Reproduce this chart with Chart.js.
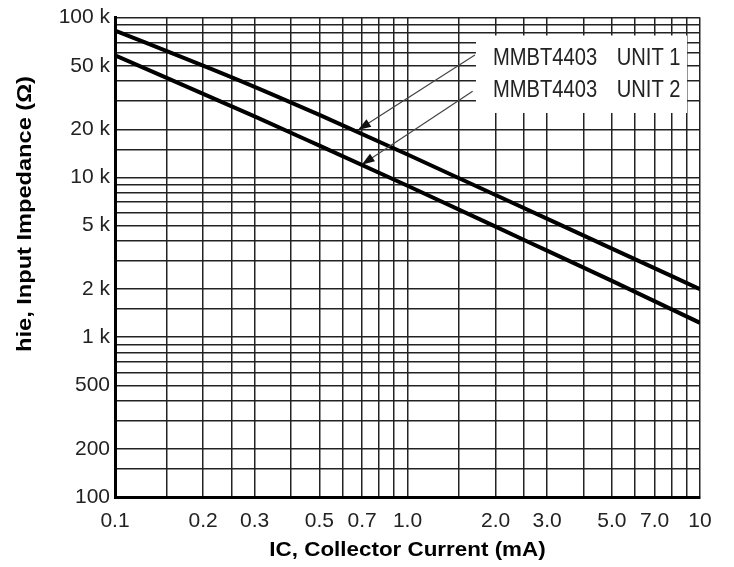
<!DOCTYPE html>
<html><head><meta charset="utf-8">
<script src="https://cdn.jsdelivr.net/npm/chart.js@4/dist/chart.umd.min.js"></script>
<style>html,body{margin:0;padding:0;background:#fff}#wrap{width:734px;height:567px;position:relative}</style>
</head><body><div id="wrap"><canvas id="c"></canvas></div>
<script>
// ---- data ----
const legendPart = ['MMBT4403', 'MMBT4403'];
const legendUnit = ['UNIT 1', 'UNIT 2'];
const unit1Current   = [0.1, 0.2, 0.3, 0.5, 1.0, 2.0, 5.0, 10];
const unit1Impedance = [83000, 50100, 36900, 24600, 13900, 7760, 3580, 2000];
const unit2Current   = [0.1, 0.3, 0.5, 1.0, 2.0, 3.0, 5.0, 10];
const unit2Impedance = [58000, 24100, 15800, 8860, 4920, 3480, 2250, 1230];
const xTickValues = [0.1, 0.2, 0.3, 0.5, 0.7, 1, 2, 3, 5, 7, 10];
const xTickLabels = ['0.1', '0.2', '0.3', '0.5', '0.7', '1.0', '2.0', '3.0', '5.0', '7.0', '10'];
const yTickValues = [100, 200, 500, 1000, 2000, 5000, 10000, 20000, 50000, 100000];
const yTickLabels = ['100', '200', '500', '1 k', '2 k', '5 k', '10 k', '20 k', '50 k', '100 k'];
const xGridMultiples = [1, 1.5, 2, 2.5, 3, 4, 5, 6, 7, 8, 9];
const yGridMultiples = [1, 1.5, 2, 3, 4, 5, 6, 7, 8, 9];
const xTitle = 'IC, Collector Current (mA)';
const yTitle = 'hie, Input Impedance (\u03A9)';
// arrow annotations: [tailCurrent, tailImpedance, tipCurrent, tipImpedance]
const arrow1 = [1.70, 58300, 0.677, 19800];
const arrow2 = [1.67, 34600, 0.697, 12000];

const TICK_FONT = "'Liberation Sans', Arial, sans-serif";
const TITLE_FONT = "'Liberation Sans', Arial, sans-serif";

function gridValues(min, max, mults) {
  const out = [];
  for (let e = Math.floor(Math.log10(min)); e <= Math.ceil(Math.log10(max)); e++) {
    for (const m of mults) {
      const v = m * Math.pow(10, e);
      if (v >= min * 0.9999 && v <= max * 1.0001) out.push(v);
    }
  }
  return out;
}
function labelFor(v, vals, labs) {
  for (let i = 0; i < vals.length; i++) if (Math.abs(v - vals[i]) / vals[i] < 1e-6) return labs[i];
  return '';
}
const toPts = (xs, ys) => xs.map((x, i) => ({x: x, y: ys[i]}));

const annot = {
  id: 'annot',
  afterDatasetsDraw(chart) {
    const ctx = chart.ctx, xs = chart.scales.x, ys = chart.scales.y;
    ctx.save();
    // legend box
    const l = xs.getPixelForValue(1.714), r = xs.getPixelForValue(9.03);
    const t = ys.getPixelForValue(77300), b = ys.getPixelForValue(25300);
    ctx.fillStyle = '#fff';
    ctx.fillRect(l, t, r - l, b - t);
    ctx.fillStyle = '#222';
    ctx.font = "24px " + TICK_FONT;
    ctx.textBaseline = 'alphabetic';
    ctx.textAlign = 'left';
    const rows = [50800, 31800];
    for (let i = 0; i < 2; i++) {
      const yb = ys.getPixelForValue(rows[i]);
      for (const [txt, xv] of [[legendPart[i], 1.96], [legendUnit[i], 5.19]]) {
        ctx.save();
        ctx.translate(xs.getPixelForValue(xv), yb);
        ctx.scale(0.84, 1);
        ctx.fillText(txt, 0, 0);
        ctx.restore();
      }
    }
    // arrows
    for (const a of [arrow1, arrow2]) {
      const x0 = xs.getPixelForValue(a[0]), y0 = ys.getPixelForValue(a[1]);
      const x1 = xs.getPixelForValue(a[2]), y1 = ys.getPixelForValue(a[3]);
      const ang = Math.atan2(y1 - y0, x1 - x0);
      ctx.strokeStyle = '#444';
      ctx.lineWidth = 1.2;
      ctx.beginPath(); ctx.moveTo(x0, y0);
      ctx.lineTo(x1 - 10 * Math.cos(ang), y1 - 10 * Math.sin(ang)); ctx.stroke();
      ctx.fillStyle = '#111';
      ctx.beginPath();
      ctx.moveTo(x1, y1);
      ctx.lineTo(x1 - 13 * Math.cos(ang) + 4.5 * Math.sin(ang), y1 - 13 * Math.sin(ang) - 4.5 * Math.cos(ang));
      ctx.lineTo(x1 - 13 * Math.cos(ang) - 4.5 * Math.sin(ang), y1 - 13 * Math.sin(ang) + 4.5 * Math.cos(ang));
      ctx.closePath(); ctx.fill();
    }
    // axis titles
    ctx.fillStyle = '#000';
    ctx.font = "bold 20px " + TITLE_FONT;
    ctx.textAlign = 'center';
    ctx.textBaseline = 'middle';
    ctx.save();
    ctx.translate((chart.chartArea.left + chart.chartArea.right) / 2, 550);
    ctx.scale(1.12, 1);
    ctx.fillText(xTitle, 0, 0);
    ctx.restore();
    ctx.save();
    ctx.translate(25, 214);
    ctx.rotate(-Math.PI / 2);
    ctx.scale(1.18, 1);
    ctx.fillText(yTitle, 0, 0);
    ctx.restore();
    ctx.restore();
  }
};

new Chart(document.getElementById('c'), {
  type: 'line',
  data: {
    datasets: [
      {label: legendPart[0] + ' ' + legendUnit[0], data: toPts(unit1Current, unit1Impedance),
       borderColor: '#000', borderWidth: 4, pointRadius: 0, cubicInterpolationMode: 'monotone', fill: false},
      {label: legendPart[1] + ' ' + legendUnit[1], data: toPts(unit2Current, unit2Impedance),
       borderColor: '#000', borderWidth: 4, pointRadius: 0, cubicInterpolationMode: 'monotone', fill: false}
    ]
  },
  options: {
    responsive: true, maintainAspectRatio: false, animation: false,
    layout: {padding: {top: 15, right: 34, left: 0, bottom: 0}},
    plugins: {legend: {display: false}, tooltip: {enabled: false}},
    scales: {
      x: {
        type: 'logarithmic', min: 0.1, max: 10,
        afterBuildTicks: s => { s.ticks = gridValues(0.1, 10, xGridMultiples).map(v => ({value: v})); },
        afterFit: s => { s.height = 70; },
        grid: {color: '#222', lineWidth: 1.5, drawTicks: false},
        border: {color: '#000', width: 3},
        ticks: {autoSkip: false, maxRotation: 0, padding: 12, color: '#222',
                font: {family: TICK_FONT, size: 21},
                callback: v => labelFor(v, xTickValues, xTickLabels)}
      },
      y: {
        type: 'logarithmic', min: 100, max: 100000,
        afterBuildTicks: s => { s.ticks = gridValues(100, 100000, yGridMultiples).map(v => ({value: v})); },
        afterFit: s => { s.width = 115; },
        grid: {color: '#222', lineWidth: 1.5, drawTicks: false},
        border: {color: '#000', width: 3},
        ticks: {autoSkip: false, padding: 5, color: '#222',
                font: {family: TICK_FONT, size: 21},
                callback: v => labelFor(v, yTickValues, yTickLabels)}
      }
    }
  },
  plugins: [annot]
});
</script></body></html>
